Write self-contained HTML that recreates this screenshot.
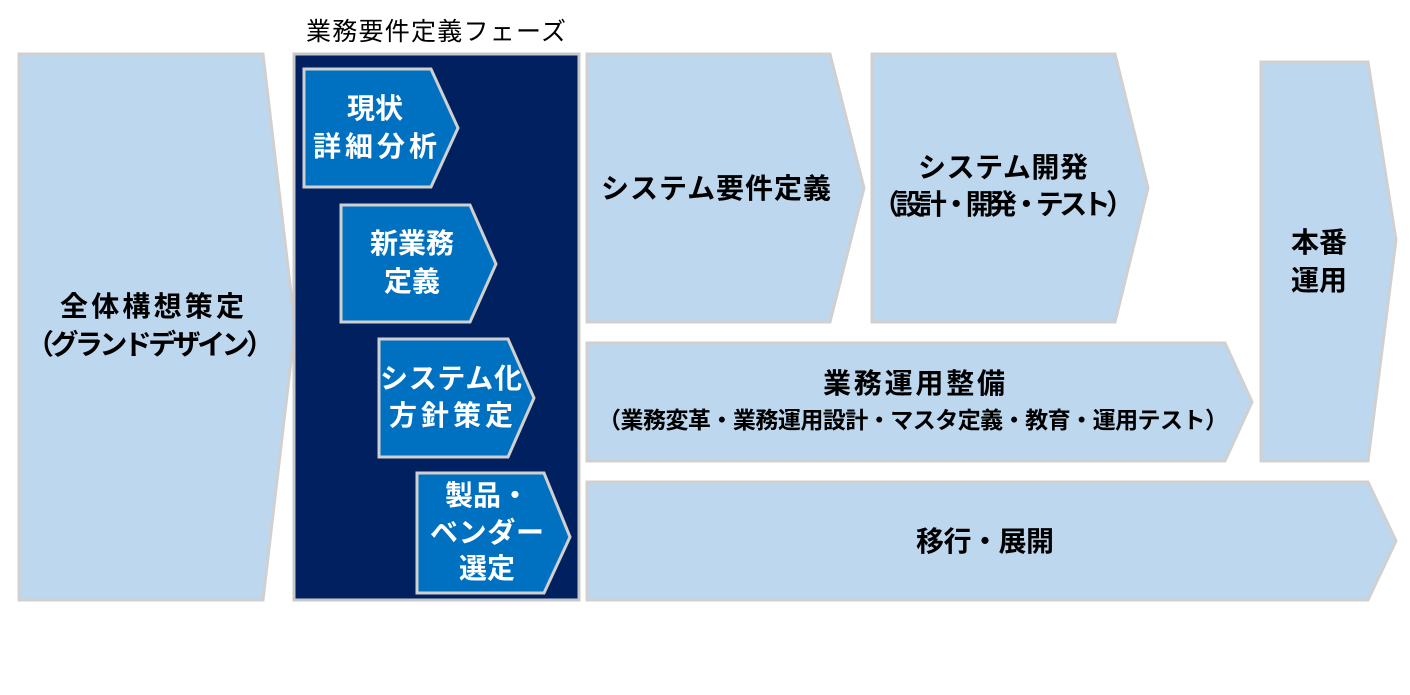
<!DOCTYPE html>
<html><head><meta charset="utf-8"><style>
html,body{margin:0;padding:0;background:#fff;}
svg text{font-family:"Liberation Sans","Noto Sans CJK JP",sans-serif;}
</style></head><body>
<svg width="1410" height="690" viewBox="0 0 1410 690" xmlns="http://www.w3.org/2000/svg">
<g fill="#bdd7ee" stroke="#d0d0d0" stroke-width="3">
<polygon points="19,54 263,54 295,327 263,600 19,600"/>
<polygon points="587,54 830,54 864,188 830,322 587,322"/>
<polygon points="872,54 1115,54 1148,188 1115,322 872,322"/>
<polygon points="1261,62 1368,62 1396,240 1368,461 1261,461"/>
<polygon points="587,343 1225,343 1252,402 1225,461 587,461"/>
<polygon points="587,482 1368,482 1396,541 1368,600 587,600"/>
</g>
<rect x="294" y="54" width="285" height="546" fill="#002060" stroke="#c8c8c8" stroke-width="3"/>
<g fill="#0070c0" stroke="#d0d0d0" stroke-width="3">
<polygon points="304,69 431,69 458,128 431,187 304,187"/>
<polygon points="341,205 470,205 496,264 470,322 341,322"/>
<polygon points="379,339 508,339 534,398 508,457 379,457"/>
<polygon points="417,473 544,473 570,537 544,593 417,593"/>
</g>
<text x="436" y="40" font-size="25" text-anchor="middle" fill="#000" textLength="260">業務要件定義フェーズ</text>
<g font-size="28" font-weight="bold" text-anchor="middle" fill="#000">
<text x="152" y="316" textLength="184">全体構想策定</text>
<text x="150" y="354" textLength="248">（グランドデザイン）</text>
<text x="716" y="198" textLength="230">システム要件定義</text>
<text x="1003" y="177" textLength="170">システム開発</text>
<text x="1003" y="214" textLength="262">（設計・開発・テスト）</text>
<text x="1319" y="252">本番</text>
<text x="1319" y="290">運用</text>
<text x="914" y="393" textLength="182">業務運用整備</text>
<text x="913" y="428" font-size="23" textLength="630">（業務変革・業務運用設計・マスタ定義・教育・運用テスト）</text>
<text x="985" y="551" textLength="138">移行・展開</text>
</g>
<g font-size="28" font-weight="bold" text-anchor="middle" fill="#fff">
<text x="375" y="118">現状</text>
<text x="375" y="156" textLength="124">詳細分析</text>
<text x="412" y="253">新業務</text>
<text x="412" y="291">定義</text>
<text x="451" y="388" textLength="142">システム化</text>
<text x="451" y="425" textLength="124">方針策定</text>
<text x="487" y="505">製品・</text>
<text x="487" y="542" textLength="114">ベンダー</text>
<text x="487" y="578">選定</text>
</g>
</svg>
</body></html>
